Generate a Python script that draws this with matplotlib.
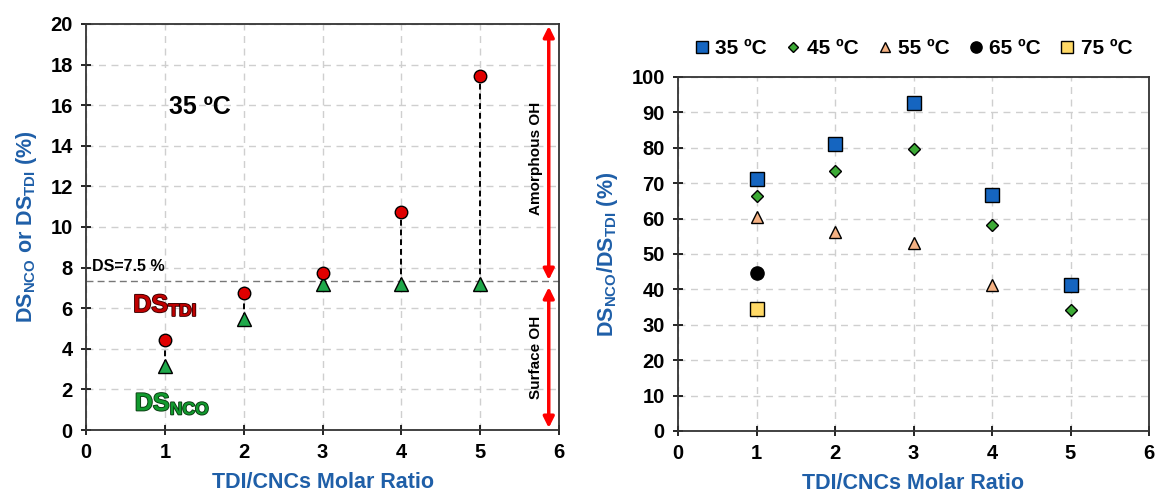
import matplotlib
matplotlib.use("Agg")
import matplotlib.pyplot as plt
import matplotlib.patheffects as pe
import numpy as np

plt.rcParams['font.family'] = ['Liberation Sans', 'DejaVu Sans']
plt.rcParams['font.weight'] = 'bold'
plt.rcParams['mathtext.fontset'] = 'custom'
plt.rcParams['mathtext.rm'] = 'Liberation Sans:bold'
plt.rcParams['mathtext.bf'] = 'Liberation Sans:bold'
plt.rcParams['mathtext.it'] = 'Liberation Sans:bold'

# left panel data (35 C)
ratio = [1, 2, 3, 4, 5]
ds_tdi = [4.45, 6.75, 7.72, 10.75, 17.42]
ds_nco = [3.15, 5.45, 7.18, 7.18, 7.18]
ds_limit = 7.34

# right panel data: DS_NCO/DS_TDI (%)
temps = ['35 ºC', '45 ºC', '55 ºC', '65 ºC', '75 ºC']
x35 = [1, 2, 3, 4, 5]
y35 = [71.2, 81.0, 92.6, 66.8, 41.2]
x45 = [1, 2, 3, 4, 5]
y45 = [66.4, 73.4, 79.7, 58.3, 34.1]
x55 = [1, 2, 3, 4]
y55 = [60.5, 56.2, 53.0, 41.2]
x65 = [1]
y65 = [44.5]
x75 = [1]
y75 = [34.4]

blue_lbl = '#1F5FA8'
grid_kw = dict(color='#CFCFCF', linestyle=(0, (5, 4)), linewidth=1.0)

fig = plt.figure(figsize=(11.58, 4.99), dpi=100)
ax1 = fig.add_axes([86/1158, 1-430/499, (559-86)/1158, (430-24)/499])
ax2 = fig.add_axes([678/1158, 1-431/499, (1149-678)/1158, (431-77)/499])

for ax in (ax1, ax2):
    ax.set_xlim(0, 6)
    ax.grid(True, **grid_kw)
    ax.set_axisbelow(True)
    ax.tick_params(direction='inout', length=7, width=1.2, labelsize=14.5, pad=6)
    for s in ax.spines.values():
        s.set_linewidth(1.3)
        s.set_color('#333333')
    for lab in ax.get_xticklabels() + ax.get_yticklabels():
        lab.set_fontweight('bold')
    ax.set_xlabel('TDI/CNCs Molar Ratio', color=blue_lbl, fontsize=15.5, fontweight='bold', labelpad=7)

# ---- left panel
ax1.set_ylim(0, 20)
ax1.set_yticks(np.arange(0, 21, 2))
ax1.axhline(ds_limit, color='#777777', linestyle=(0, (5, 3)), linewidth=1.0, zorder=2)
for x, a, b in zip(ratio, ds_nco, ds_tdi):
    ax1.plot([x, x], [a, b], color='black', linestyle=(0, (3, 2)), linewidth=1.4, zorder=3)
ax1.plot(ratio, ds_tdi, 'o', color='#E00000', mec='black', mew=1.0, ms=9, zorder=5)
ax1.plot(ratio, ds_nco, '^', color='#1FA84A', mec='black', mew=1.0, ms=10, zorder=4)

ax1.annotate('', xy=(5.87, 19.9), xytext=(5.87, ds_limit + 0.05),
             arrowprops=dict(arrowstyle='<|-|>', color='red', lw=2.5, mutation_scale=16, shrinkA=0, shrinkB=0))
ax1.annotate('', xy=(5.87, ds_limit - 0.3), xytext=(5.87, 0.1),
             arrowprops=dict(arrowstyle='<|-|>', color='red', lw=2.5, mutation_scale=16, shrinkA=0, shrinkB=0))
ax1.text(5.71, 13.4, 'Amorphous OH', rotation=90, ha='center', va='center', fontsize=11, fontweight='bold')
ax1.text(5.71, 3.6, 'Surface OH', rotation=90, ha='center', va='center', fontsize=11, fontweight='bold')
ax1.text(0.08, 7.85, 'DS=7.5 %', fontsize=11.5, fontweight='bold')
ax1.text(1.45, 15.9, '35 ºC', fontsize=18, fontweight='bold', ha='center', va='center')
ax1.text(0.6, 6.15, r'DS$_{\mathbf{TDI}}$', fontsize=18, color='#C00000', va='center',
         path_effects=[pe.withStroke(linewidth=1.3, foreground='#3A0000')])
ax1.text(0.62, 1.3, r'DS$_{\mathbf{NCO}}$', fontsize=18, color='#119A2E', va='center',
         path_effects=[pe.withStroke(linewidth=1.3, foreground='#0A3A10')])
ax1.set_ylabel(r'DS$_{\mathbf{NCO}}$ or DS$_{\mathbf{TDI}}$ (%)', color=blue_lbl, fontsize=15.5, fontweight='bold', labelpad=8)

# ---- right panel
ax2.set_ylim(0, 100)
ax2.set_yticks(np.arange(0, 101, 10))
ax2.plot(x35, y35, 's', color='#1565C0', mec='black', mew=1.0, ms=10, label=temps[0], zorder=5)
ax2.plot(x45, y45, 'D', color='#3CAA35', mec='black', mew=1.0, ms=6.5, label=temps[1], zorder=5)
ax2.plot(x55, y55, '^', color='#F4B183', mec='black', mew=1.0, ms=9, label=temps[2], zorder=5)
ax2.plot(x65, y65, 'o', color='black', mec='black', mew=1.0, ms=9.5, label=temps[3], zorder=5)
ax2.plot(x75, y75, 's', color='#FFD966', mec='black', mew=1.0, ms=10, label=temps[4], zorder=5)
ax2.set_ylabel(r'DS$_{\mathbf{NCO}}$/DS$_{\mathbf{TDI}}$ (%)', color=blue_lbl, fontsize=15.5, fontweight='bold', labelpad=8)
leg = ax2.legend(loc='lower center', bbox_to_anchor=(0.5, 1.0), ncol=5, frameon=False,
                 fontsize=15, handlelength=0.7, handletextpad=0.3, columnspacing=0.9, markerscale=0.85)
for t in leg.get_texts():
    t.set_fontweight('bold')

fig.savefig('out.png', dpi=100)
